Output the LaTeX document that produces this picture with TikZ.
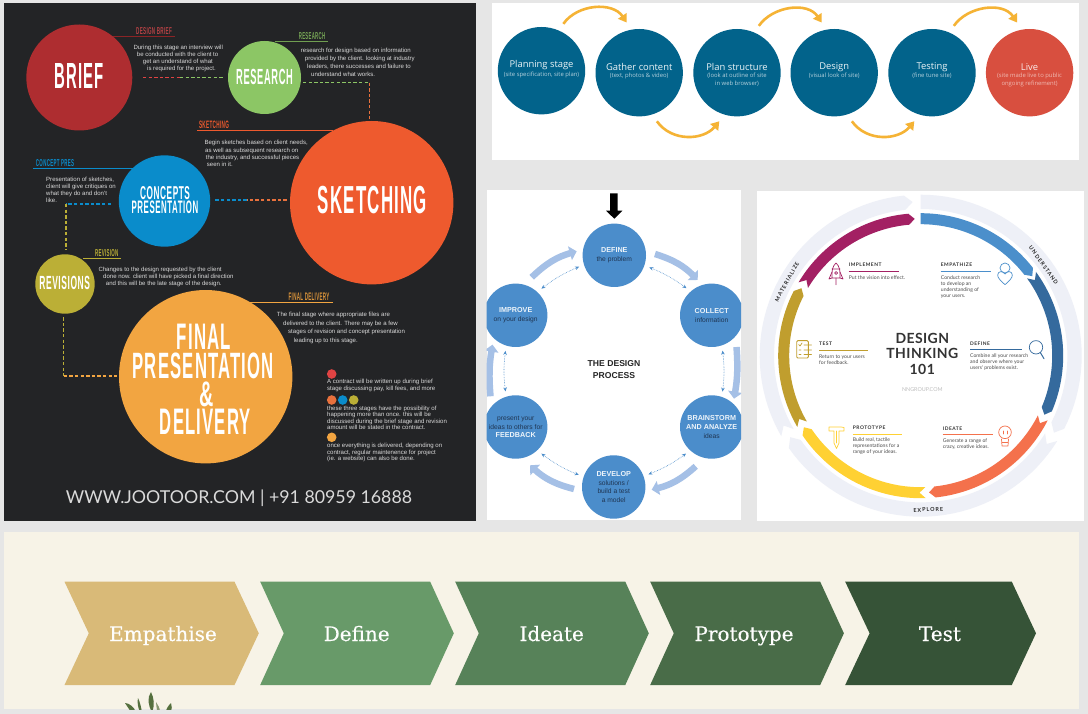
\documentclass[tikz,border=0pt]{standalone}
\usepackage{fontspec}
\usepackage{graphicx}
\setmainfont{Liberation Sans}
\newfontfamily\headfont[LetterSpace=7]{Liberation Sans}
\newfontfamily\lato{Lato}
\newfontfamily\nnhead[LetterSpace=10]{Lato}
\newfontfamily\nnring[LetterSpace=18]{Lato}
\newfontfamily\nntitle[LetterSpace=3]{Lato}
\newfontfamily\opensans{Open Sans}
\newfontfamily\slab[FakeBold=0.3]{DejaVu Serif}
\usetikzlibrary{arrows.meta,calc}
\definecolor{pagebg}{HTML}{E6E6E6}
\definecolor{darkpanel}{HTML}{232426}
\definecolor{cbrief}{HTML}{AE2D30}
\definecolor{cresearch}{HTML}{8CC665}
\definecolor{csketch}{HTML}{EE5A2E}
\definecolor{cconcept}{HTML}{0A8CCB}
\definecolor{crevision}{HTML}{BBAF36}
\definecolor{cfinal}{HTML}{F2A541}
\definecolor{cred}{HTML}{E04343}
\definecolor{corange}{HTML}{E8713D}
\definecolor{bodygrey}{HTML}{DADADA}
\definecolor{sitebl}{HTML}{02638B}
\definecolor{sitered}{HTML}{D84F3F}
\definecolor{siteor}{HTML}{F5B335}
\definecolor{procbl}{HTML}{4B8DCB}
\definecolor{procli}{HTML}{A5C0E6}
\definecolor{procdk}{HTML}{1F3552}
\definecolor{nnempath}{HTML}{4B8FCB}
\definecolor{nndefine}{HTML}{356A9D}
\definecolor{nnideate}{HTML}{F4714C}
\definecolor{nnproto}{HTML}{FFD133}
\definecolor{nntest}{HTML}{C09E2E}
\definecolor{nnimpl}{HTML}{A32063}
\definecolor{nnring}{HTML}{EEF0F7}
\definecolor{beige}{HTML}{F7F3E7}
\definecolor{chA}{HTML}{D9BA78}
\definecolor{chB}{HTML}{689A69}
\definecolor{chC}{HTML}{578259}
\definecolor{chD}{HTML}{496C48}
\definecolor{chE}{HTML}{365337}
\definecolor{leafc}{HTML}{55703F}
\newcommand\fit[3]{\resizebox{#1pt}{#2pt}{\headfont\bfseries #3}}
\newcommand\pb[1]{\textcolor{white!90!procbl}{\bfseries\fontsize{7.2}{8.8}\selectfont #1}}
\newcommand\Rx{920.7}
\newcommand\Ry{355.7}
% colour, r in, r out, a0, a1, notch angle, tip angle
\newcommand\ringseg[7]{\fill[#1] plot[domain=#4:#5,samples=40] ({\Rx+#3*sin(\x)},{\Ry-#3*cos(\x)})
 -- ({\Rx+(#2+#3)/2*sin(#5+#7)},{\Ry-(#2+#3)/2*cos(#5+#7)})
 -- plot[domain=#5:#4,samples=40] ({\Rx+#2*sin(\x)},{\Ry-#2*cos(\x)})
 -- ({\Rx+(#2+#3)/2*sin(#4+#6)},{\Ry-(#2+#3)/2*cos(#4+#6)}) -- cycle;}
\tikzset{
  disc/.style={circle,fill=#1,minimum size=10pt,inner sep=0pt,outer sep=0pt},
  sized/.style={minimum size=#1 pt},
  htext/.style={text=white,inner sep=0pt,outer sep=0pt},
  dashc/.style={draw=#1,line width=1.4pt,dash pattern=on 3.4pt off 2.2pt},
  leader/.style={draw=#1,line width=1pt},
  bodytext/.style={text=bodygrey,inner sep=0pt,anchor=west,align=left,font=\fontsize{6.05}{7.1}\selectfont},
  sitecirc/.style={circle,fill=#1,minimum size=87.4pt,inner sep=0pt,outer sep=8pt},
  sitehead/.style={text=white!92!sitebl,inner sep=0pt,font=\opensans\fontsize{9.4}{11}\selectfont},
  sitesub/.style={text=#1,inner sep=0pt,align=center,font=\opensans\fontsize{5.9}{8.6}\selectfont},
  sitearrow/.style={draw=siteor,line width=2.6pt,-{Triangle[length=8pt,width=10pt]}},
  proc/.style={circle,fill=procbl,minimum size=63.4pt,inner sep=0pt,outer sep=5.3pt,align=center,text=procdk,font=\fontsize{6.7}{8.8}\selectfont},
  thickflow/.style={draw=procli,line width=6.5pt,-{Triangle[length=7pt,width=14pt,inset=0pt]},bend left=14},
  thinflow/.style={draw=procbl,line width=0.6pt,densely dotted,{Stealth[length=4pt,width=3.5pt,fill=procbl]}-{Stealth[length=4pt,width=3.5pt,fill=procbl]},bend left=7},
  nnh/.style={inner sep=0pt,anchor=west,text=black!80,font=\nnhead\bfseries\fontsize{4.9}{6}\selectfont},
  nnb/.style={inner sep=0pt,anchor=west,align=left,text=black!70,font=\lato\fontsize{5.1}{6.05}\selectfont},
  nnl/.style={draw=#1,line width=0.7pt},
  ringlabel/.style={inner sep=0pt,text=black!85,font=\nnring\bfseries\fontsize{5.4}{6}\selectfont},
  icon/.style={draw=#1,line width=0.7pt,line join=round,line cap=round,fill=none},
  chev/.style={fill=#1},
  chevtext/.style={text=white!90!beige,inner sep=0pt,anchor=base,font=\slab\fontsize{20}{22}\selectfont}
}
\begin{document}
\begin{tikzpicture}[x=1pt,y=-1pt]
\useasboundingbox (0,0) rectangle (1088,714);
\fill[pagebg] (0,0) rectangle (1088,714);

%%% PANEL 1
\fill[darkpanel] (4,3) rectangle (476,521);
\draw[leader=cbrief!80!black] (113,37) -- (175,37);
\draw[leader=cresearch!80!black] (275,42) -- (328,42);
\draw[leader=csketch] (197,130.5) -- (333,130.5);
\draw[leader=cconcept] (33,168.7) -- (133,168.7);
\draw[leader=crevision] (83,258.7) -- (121,258.7);
\draw[leader=cfinal] (248,303) -- (333,303);
\node[disc=cbrief,sized=106] (brief) at (79.3,77.5) {};
\node[disc=cresearch,sized=73] (research) at (264.5,77.5) {};
\node[disc=csketch,sized=163.4] (sketching) at (371.7,202.7) {};
\node[disc=cconcept,sized=91.4] (concepts) at (164.5,201) {};
\node[disc=crevision,sized=59.4] (revisions) at (65,284) {};
\node[disc=cfinal,sized=173.4] (final) at (205.7,376.7) {};
\node[htext] (tbrief) at (79,76) {\fit{49}{25}{BRIEF}};
\node[htext] (tresearch) at (264.5,77) {\fit{56.7}{15.3}{RESEARCH}};
\node[htext] (tsketch) at (372.5,200.3) {\fit{109}{27.3}{SKETCHING}};
\node[htext] (tconc) at (165,192.7) {\fit{50}{13}{CONCEPTS}};
\node[htext] (tpres) at (165,207.5) {\fit{66.7}{12.6}{PRESENTATION}};
\node[htext] (trev) at (64.7,282.7) {\fit{50.7}{13.3}{REVISIONS}};
\node[htext] (tfin1) at (204,336.3) {\fit{54.3}{25.4}{FINAL}};
\node[htext] (tfin2) at (203.3,366) {\fit{141.3}{25.6}{PRESENTATION}};
\node[htext] (tfin3) at (207,394.7) {\fit{14.3}{24.6}{\&}};
\node[htext] (tfin4) at (205.3,422) {\fit{90.7}{25.4}{DELIVERY}};
\node[inner sep=0pt,text=cbrief!90!white] (lbrief) at (154,31) {\fit{35.7}{7}{DESIGN BRIEF}};
\node[inner sep=0pt,text=cresearch!85!black] (lresearch) at (312,36) {\fit{26.3}{7}{RESEARCH}};
\node[inner sep=0pt,text=csketch] (lsketch) at (214,124.5) {\fit{30}{7.5}{SKETCHING}};
\node[inner sep=0pt,text=cconcept] (lconc) at (55,163) {\fit{38}{7}{CONCEPT PRES}};
\node[inner sep=0pt,text=crevision] (lrev) at (106.7,252.7) {\fit{23.3}{7}{REVISION}};
\node[inner sep=0pt,text=cfinal!90!black] (lfin) at (309,297) {\fit{40.7}{7.5}{FINAL DELIVERY}};
\node[bodytext] (bbrief) at (133.3,58.4) {During this stage an interview will\\\hspace*{3.4pt}be conducted with the client to\\\hspace*{9.4pt}get an understand of what\\\hspace*{13.7pt}is required for the project.};
\node[bodytext,font=\fontsize{6.05}{8}\selectfont] (bresearch) at (300.7,62.7) {research for design based on information\\\hspace*{4pt}provided by the client. looking at industry\\\hspace*{6.3pt}leaders, there successes and failure to\\\hspace*{10.3pt}understand what works.};
\node[bodytext] (bsketch) at (204.3,153.4) {Begin sketches based on client needs,\\\hspace*{0.7pt}as well as subsequent research on\\\hspace*{1.4pt}the industry, and successful pieces\\\hspace*{2.4pt}seen in it.};
\node[bodytext] (bconc) at (46,190) {Presentation of sketches,\\client will give critiques on\\what they do and don't\\like.};
\node[bodytext,font=\fontsize{6.05}{7.3}\selectfont] (brev) at (98.3,277) {Changes to the design requested by the client\\\hspace*{4.7pt}done now. client will have picked a final direction\\\hspace*{7.4pt}and this will be the late stage of the design.};
\node[bodytext,font=\fontsize{6.05}{8.4}\selectfont] (bfin) at (276.7,328) {The final stage where appropriate files are\\\hspace*{6.3pt}delivered to the client. There may be a few\\\hspace*{11.3pt}stages of revision and concept presentation\\\hspace*{17pt}leading up to this stage.};
\node[disc=cred,sized=9.6] (dotA) at (331.7,374) {};
\node[disc=corange,sized=9.6] (dotB) at (331.7,400) {};
\node[disc=cconcept,sized=9.6] (dotC) at (342.7,400) {};
\node[disc=crevision,sized=9.6] (dotD) at (353.7,400) {};
\node[disc=cfinal,sized=9.6] (dotE) at (331.7,437.3) {};
\node[bodytext,font=\fontsize{6.05}{6.5}\selectfont] (legA) at (327,385.5) {A contract will be written up during brief\\stage discussing pay, kill fees, and more};
\node[bodytext,font=\fontsize{6.05}{6.5}\selectfont] (legB) at (327,417.8) {these three stages have the possibility of\\happening more than once. this will be\\discussed during the brief stage and revision\\amount will be stated in the contract.};
\node[bodytext,font=\fontsize{6.05}{6.5}\selectfont] (legC) at (327,452.8) {once everything is delivered, depending on\\contract, regular maintenence for project\\(ie. a website) can also be done.};
\node[inner sep=0pt,text=bodygrey] (footer) at (239,498.3) {\resizebox{346pt}{!}{\lato WWW.JOOTOOR.COM | +91 80959 16888}};
\coordinate (mBR) at (180,77.5);
\coordinate (cRS) at (369.3,82.7);
\coordinate (mSC) at (246.7,200);
\coordinate (cCR) at (66,204);
\coordinate (cRF) at (63.7,376);
\draw[dashc=cred] ([xshift=10.7pt]brief.east) -- (mBR);
\draw[dashc=cresearch] (mBR) -- ([xshift=-4.5pt]research.west);
\draw[dashc=cresearch] ([xshift=2pt,yshift=-5.2pt]research.east) -- (cRS);
\draw[dashc=corange] (cRS) -- ([xshift=-2.4pt,yshift=2pt]sketching.north);
\draw[dashc=corange] ([xshift=-3.3pt,yshift=2.7pt]sketching.west) -- (mSC);
\draw[dashc=cconcept] (mSC) -- ([xshift=3.8pt,yshift=1pt]concepts.east);
\draw[dashc=cconcept] ([xshift=-7.8pt,yshift=-3pt]concepts.west) -- (cCR);
\draw[dashc=crevision] (cCR) -- ([xshift=1pt,yshift=5pt]revisions.north);
\draw[dashc=crevision] ([xshift=-1.3pt,yshift=-3.6pt]revisions.south) -- (cRF);
\draw[dashc=cfinal] (cRF) -- ([xshift=-2.3pt,yshift=0.7pt]final.west);

%%% PANEL 2
\fill[white] (492,3.3) rectangle (1079,160.3);
\node[sitecirc=sitebl] (planning) at (541.5,70.7) {};
\node[sitecirc=sitebl] (gather) at (639.2,72.7) {};
\node[sitecirc=sitebl] (plan) at (737,72.7) {};
\node[sitecirc=sitebl] (design) at (834.2,72.7) {};
\node[sitecirc=sitebl] (testing) at (932,72.7) {};
\node[sitecirc=sitered] (live) at (1029.6,72.7) {};
\node[sitehead] (hA) at (541.5,65) {Planning stage};
\node[sitesub=white!70!sitebl] (sA) at (541.5,74.7) {(site specification, site plan)};
\node[sitehead] (hB) at (639.2,66.7) {Gather content};
\node[sitesub=white!70!sitebl] (sB) at (639.2,76) {(text, photos \& video)};
\node[sitehead] (hC) at (737,66.7) {Plan structure};
\node[sitesub=white!70!sitebl,anchor=north] (sC) at (737,72.5) {(look at outline of site\\in web browser)};
\node[sitehead] (hD) at (834.2,66.7) {Design};
\node[sitesub=white!70!sitebl] (sD) at (834.2,76) {(visual look of site)};
\node[sitehead] (hE) at (932,66.7) {Testing};
\node[sitesub=white!70!sitebl] (sE) at (932,76) {(fine tune site)};
\node[sitehead,text=white!90!sitered] (hF) at (1029.6,66.7) {Live};
\node[sitesub=white!60!sitered,anchor=north] (sF) at (1029.6,72.5) {(site made live to public\\ongoing refinement)};
\draw[sitearrow] (planning.65) .. controls +(14,-20) and +(-14,-21) .. (gather.104);
\draw[sitearrow] (gather.-70) .. controls +(15,21) and +(-16,19) .. (plan.-110);
\draw[sitearrow] (plan.65) .. controls +(14,-20) and +(-14,-21) .. (design.104);
\draw[sitearrow] (design.-70) .. controls +(15,21) and +(-16,19) .. (testing.-110);
\draw[sitearrow] (testing.65) .. controls +(14,-20) and +(-14,-21) .. (live.104);

%%% PANEL 3
\fill[white] (486.7,190.3) rectangle (741,520.3);
\begin{scope}
\clip (486.7,190.3) rectangle (741,520.3);
\node[proc] (define) at (614.3,255.3) {\pb{DEFINE}\\the problem};
\node[proc] (collect) at (711.7,315.3) {\pb{COLLECT}\\information};
\node[proc] (brainstorm) at (711.7,427) {\pb{BRAINSTORM}\\\pb{AND ANALYZE}\\ideas};
\node[proc] (develop) at (613.7,487) {\pb{DEVELOP}\\solutions /\\build a test\\a model};
\node[proc] (feedback) at (515.7,427) {present your\\ideas to others for\\\pb{FEEDBACK}};
\node[proc] (improve) at (515.7,315.3) {\pb{IMPROVE}\\on your design};
\node[inner sep=0pt,align=center,text=black!85,font=\bfseries\fontsize{8.6}{11.6}\selectfont] (ptitle) at (614,369.5) {THE DESIGN\\PROCESS};
\fill[black] (610,193.3) -- (617.7,193.3) -- (617.7,210.7) -- (622.3,210.7) -- (614.3,218.7) -- (606,210.7) -- (610,210.7) -- cycle;
\coordinate (t1s) at (655,254); \coordinate (t1e) at (697.7,280);
\coordinate (t2s) at (736.5,347); \coordinate (t2e) at (734,398.7);
\coordinate (t3s) at (695.7,466.3); \coordinate (t3e) at (651.7,489.7);
\coordinate (t4s) at (574,489); \coordinate (t4e) at (530,465.3);
\coordinate (t5s) at (490.5,396.3); \coordinate (t5e) at (492.5,344.7);
\coordinate (t6s) at (531.7,277.3); \coordinate (t6e) at (576.7,251.3);
\draw[thickflow] (t1s) to (t1e);
\draw[thickflow,bend left=7] (t2s) to (t2e);
\draw[thickflow] (t3s) to (t3e);
\draw[thickflow] (t4s) to (t4e);
\draw[thickflow,bend left=7] (t5s) to (t5e);
\draw[thickflow] (t6s) to (t6e);
\draw[thinflow] (define.-19) to (collect.133);
\draw[thinflow] (collect.-73) to (brainstorm.73);
\draw[thinflow] (brainstorm.-134) to (develop.20);
\draw[thinflow] (develop.161) to (feedback.-46);
\draw[thinflow] (feedback.106) to (improve.-106);
\draw[thinflow] (improve.46) to (define.198);
\end{scope}

%%% PANEL 4
\fill[white] (756.7,190.7) rectangle (1084,520.7);
\ringseg{nnring}{146.7}{161}{0}{117}{0}{3}
\ringseg{nnring}{146.7}{161}{122}{235}{3}{3}
\ringseg{nnring}{146.7}{161}{240}{354}{3}{3}
\ringseg{nnempath}{131.5}{142.5}{0}{52}{0}{2.5}
\ringseg{nndefine}{131.5}{142.5}{54}{113}{2.5}{2.5}
\ringseg{nnideate}{131.5}{142.5}{117}{174}{2.5}{2.5}
\ringseg{nnproto}{131.5}{142.5}{178}{236}{2.5}{2.5}
\ringseg{nntest}{131.5}{142.5}{240}{297}{2.5}{2.5}
\ringseg{nnimpl}{131.5}{142.5}{301}{355}{2.5}{2.5}
\node[ringlabel,rotate=-54] (rU) at (1043.6,265.1) {UNDERSTAND};
\node[ringlabel,rotate=3] (rE) at (928.3,509.7) {EXPLORE};
\node[ringlabel,rotate=61] (rM) at (787,281.8) {MATERIALIZE};
\node[inner sep=0pt,text=black!80,font=\nntitle\bfseries\fontsize{14}{15}\selectfont] (dt1) at (922.3,338.3) {DESIGN};
\node[inner sep=0pt,text=black!80,font=\nntitle\bfseries\fontsize{14}{15}\selectfont] (dt2) at (922.3,353.7) {THINKING};
\node[inner sep=0pt,text=black!80,font=\nntitle\bfseries\fontsize{14}{15}\selectfont] (dt3) at (922.3,369) {101};
\node[inner sep=0pt,text=black!25,font=\lato\fontsize{5.4}{6}\selectfont] (nng) at (922.3,389.7) {NNGROUP.COM};
% Implement
\node[nnh] (hImp) at (848.7,265) {IMPLEMENT};
\draw[nnl=nnimpl] (848.7,271.3) -- (898.7,271.3);
\node[nnb] (bImp) at (848.7,277.7) {Put the vision into effect.};
\draw[icon=nnimpl] (836,263) .. controls (832.5,266) and (831.5,271) .. (832,278) -- (840,278) .. controls (840.5,271) and (839.5,266) .. (836,263) -- cycle;
\draw[icon=nnimpl] (832,272) -- (829,279) -- (832,278) (840,272) -- (843,279) -- (840,278) (832,269) -- (840,269);
\draw[icon=nnimpl] (836,273) circle (1.5) (836,278) -- (836,284.7);
% Empathize
\node[nnh] (hEmp) at (940.7,265) {EMPATHIZE};
\draw[nnl=nnempath] (940.7,271.3) -- (990.7,271.3);
\node[nnb] (bEmp) at (940.7,286.8) {Conduct research\\to develop an\\understanding of\\your users.};
\draw[icon=nnempath] (1005,268) circle (5);
\draw[icon=nnempath] (1005,284.7) .. controls (1000,280) and (997.7,278) .. (997.7,275) .. controls (997.7,271) and (1003,270.5) .. (1005,274) .. controls (1007,270.5) and (1012.3,271) .. (1012.3,275) .. controls (1012.3,278) and (1010,280) .. (1005,284.7) -- cycle;
% Define
\node[nnh] (hDef) at (970,343.3) {DEFINE};
\draw[nnl=nndefine] (970,349.3) -- (1021.7,349.3);
\node[nnb] (bDef) at (970,361.9) {Combine all your research\\and observe where your\\users' problems exist.};
\draw[icon=nndefine] (1036,347.3) circle (6.7);
\draw[icon=nndefine,line width=1pt] (1040.3,352.5) -- (1044,358.7);
% Ideate
\node[nnh] (hIde) at (942.7,428.3) {IDEATE};
\draw[nnl=nnideate] (942.7,434.7) -- (992.7,434.7);
\node[nnb] (bIde) at (942.7,444) {Generate a range of\\crazy, creative ideas.};
\draw[icon=nnideate] (1005,432.3) circle (6.3);
\draw[icon=nnideate] (1001.5,439) -- (1002,446) -- (1008,446) -- (1008.5,439) (1002,442.5) -- (1008,442.5);
\draw[icon=nnideate] (1003,431) -- (1003,434) (1007,431) -- (1007,434);
% Prototype
\node[nnh] (hPro) at (852.7,428) {PROTOTYPE};
\draw[nnl=nnproto] (852.7,434.3) -- (902.3,434.3);
\node[nnb] (bPro) at (852.7,446.4) {Build real, tactile\\representations for a\\range of your ideas.};
\draw[icon=nnproto] (829,427) -- (829,431) -- (834,431) -- (834,443) -- (836.5,448.5) -- (839,443) -- (839,431) -- (844,431) -- (844,427.5) -- (841,427) -- cycle;
\draw[icon=nnproto] (836.5,431) -- (836.5,443);
% Test
\node[nnh] (hTes) at (819,344) {TEST};
\draw[nnl=nntest] (819,350.7) -- (868.3,350.7);
\node[nnb] (bTes) at (819,360) {Return to your users\\for feedback.};
\draw[icon=nntest,rounded corners=1pt,line width=0.9pt] (796.7,340.7) rectangle (808.3,358);
\draw[icon=nntest] (798.5,344.5) -- (800,346) -- (802,343) (804,345) -- (811.5,345) (799,350) -- (801,350) (804,350) -- (811.5,350) (799,354.5) -- (801,354.5) (804,354.5) -- (811.5,354.5);

%%% PANEL 5
\fill[beige] (3.5,532) rectangle (1079,709);
\fill[chev=chA] (64.5,581.7) -- (234.5,581.7) -- (258.8,633.3) -- (234.5,685) -- (64.5,685) -- (88.8,633.3) -- cycle;
\fill[chev=chB] (260.2,581.7) -- (430.2,581.7) -- (453.8,633.3) -- (430.2,685) -- (260.2,685) -- (283.8,633.3) -- cycle;
\fill[chev=chC] (455.2,581.7) -- (625.3,581.7) -- (648.8,633.3) -- (625.3,685) -- (455.2,685) -- (478.8,633.3) -- cycle;
\fill[chev=chD] (650.2,581.7) -- (820.2,581.7) -- (843.9,633.3) -- (820.2,685) -- (650.2,685) -- (673.8,633.3) -- cycle;
\fill[chev=chE] (845.2,581.7) -- (1011.8,581.7) -- (1036,633.3) -- (1011.8,685) -- (845.2,685) -- (869.6,633.3) -- cycle;
\node[chevtext] (cE) at (163,641) {Empathise};
\node[chevtext] (cD) at (356.7,641) {Define};
\node[chevtext] (cI) at (551.7,641) {Ideate};
\node[chevtext] (cP) at (744,641) {Prototype};
\node[chevtext] (cT) at (940,641) {Test};
\begin{scope}
\clip (3.5,532) rectangle (1079,709);
\fill[leafc] (151,692) .. controls (147,698) and (148,705) .. (152,712) .. controls (155,705) and (154,698) .. (151,692) -- cycle;
\fill[leafc] (125,703) .. controls (129,703) and (134,707) .. (136,712) -- (131,712) .. controls (129,709) and (127,706) .. (125,703) -- cycle;
\fill[leafc] (138,698) .. controls (137,702) and (138,708) .. (140,712) -- (142,712) .. controls (141,707) and (140,702) .. (138,698) -- cycle;
\fill[leafc] (171,703) .. controls (168,706) and (166,709) .. (166,712) -- (171,712) .. controls (172,709) and (172,706) .. (171,703) -- cycle;
\fill[leafc!70!beige] (156,702) .. controls (158,705) and (160,708) .. (160,712) -- (157,712) .. controls (157,708) and (156,705) .. (156,702) -- cycle;
\end{scope}
\end{tikzpicture}
\end{document}
